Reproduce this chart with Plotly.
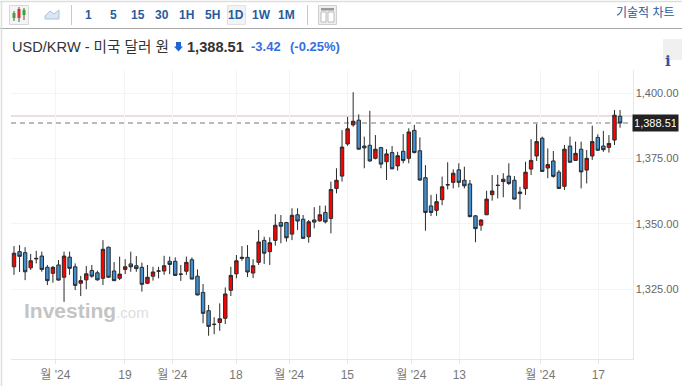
import plotly.graph_objects as go

W, H = 682, 386

high = [1341.4,1341.8,1341.0,1338.4,1339.6,1339.3,1334.2,1333.8,1336.1,1339.3,
        1339.3,1334.8,1330.0,1333.8,1334.2,1332.0,1343.7,1341.2,1335.3,1337.4,
        1336.4,1339.3,1337.6,1335.1,1334.2,1333.5,1333.5,1337.7,1337.4,1337.1,
        1334.2,1337.4,1337.1,1332.5,1326.9,1318.9,1314.2,1319.5,1325.6,1333.5,
        1338.0,1341.4,1341.8,1336.4,1347.6,1345.0,1344.8,1353.6,1353.3,1350.7,
        1355.9,1355.9,1353.3,1351.4,1356.3,1356.9,1356.9,1366.1,1371.2,1385.8,
        1390.9,1400.3,1391.8,1383.3,1393.2,1383.9,1379.4,1378.5,1379.7,1377.5,
        1384.3,1386.5,1387.8,1383.0,1372.4,1361.0,1361.3,1368.0,1373.5,1370.8,
        1373.1,1371.8,1366.7,1353.3,1351.7,1362.6,1368.6,1368.6,1369.3,1373.1,
        1368.2,1364.1,1373.7,1382.3,1388.1,1383.3,1378.8,1377.8,1370.5,1380.1,
        1383.3,1381.4,1381.4,1378.2,1387.5,1384.2,1385.5,1383.9,1393.5,1393.5]
low = [1330.4,1331.5,1328.4,1332.3,1334.8,1331.6,1326.5,1327.4,1328.2,1320.1,
       1330.4,1324.6,1322.3,1324.9,1329.3,1328.2,1326.5,1329.3,1328.0,1328.4,
       1330.7,1331.6,1331.6,1324.0,1326.9,1328.2,1329.1,1330.4,1330.7,1330.1,
       1328.1,1330.4,1328.7,1322.6,1311.9,1307.1,1307.7,1309.0,1311.6,1322.3,
       1329.1,1335.8,1329.6,1329.2,1334.2,1334.6,1334.2,1341.6,1342.5,1343.1,
       1343.7,1347.6,1344.2,1342.7,1348.2,1350.7,1350.1,1346.3,1361.6,1366.1,
       1379.8,1387.1,1378.4,1371.2,1373.7,1374.6,1371.2,1366.7,1370.8,1370.3,
       1373.1,1373.1,1376.9,1366.4,1347.3,1352.9,1353.0,1357.1,1363.1,1363.5,
       1363.9,1363.5,1352.4,1342.9,1347.3,1353.3,1358.8,1359.7,1360.1,1364.8,
       1359.3,1355.5,1361.0,1368.6,1374.0,1369.9,1367.4,1367.6,1363.3,1362.9,
       1373.4,1374.1,1363.5,1365.4,1374.4,1377.8,1377.5,1377.2,1380.1,1386.7]
open_ = [1333.5,1339.3,1338.9,1333.1,1336.5,1337.6,1333.3,1331.0,1334.2,1329.5,
         1337.2,1333.5,1327.2,1328.5,1332.1,1331.2,1329.1,1341.0,1331.9,1329.1,
         1332.5,1334.6,1333.9,1333.3,1327.2,1329.9,1331.8,1331.9,1335.6,1335.6,
         1330.6,1331.8,1336.2,1329.9,1323.7,1316.7,1311.4,1312.2,1313.8,1324.5,
         1330.8,1336.7,1337.1,1331.1,1335.2,1343.6,1339.3,1343.6,1350.4,1350.4,
         1346.0,1353.4,1351.7,1345.0,1351.4,1351.1,1354.3,1352.0,1363.5,1368.2,
         1380.5,1387.8,1389.6,1379.7,1380.0,1375.0,1379.1,1373.7,1377.2,1372.1,
         1377.7,1375.0,1385.7,1377.9,1367.6,1356.8,1355.1,1359.2,1364.8,1365.8,
         1370.6,1366.6,1365.2,1353.0,1349.4,1353.4,1361.1,1364.6,1366.1,1368.2,
         1366.6,1361.5,1363.4,1370.9,1375.9,1382.7,1371.3,1374.0,1369.7,1364.3,
         1379.7,1374.2,1378.5,1370.5,1375.9,1383.0,1379.7,1379.2,1382.0,1391.1]
close = [1338.7,1337.5,1331.6,1335.8,1336.7,1332.5,1328.2,1333.3,1328.4,1337.6,
         1332.9,1326.4,1328.2,1330.8,1329.9,1328.5,1340.2,1329.5,1328.2,1330.7,
         1333.5,1333.5,1332.8,1326.8,1329.5,1331.5,1331.9,1333.9,1334.4,1330.2,
         1330.7,1335.2,1328.8,1322.7,1315.7,1310.7,1311.5,1313.6,1323.1,1330.2,
         1335.8,1337.1,1331.5,1333.9,1343.0,1338.7,1342.7,1349.4,1349.0,1344.6,
         1353.2,1351.0,1344.4,1350.7,1350.6,1353.4,1350.7,1363.1,1366.6,1379.3,
         1386.3,1389.2,1378.5,1379.0,1374.0,1378.5,1372.8,1376.7,1371.0,1376.0,
         1374.2,1385.1,1377.2,1366.7,1354.3,1354.3,1358.4,1364.1,1364.9,1369.3,
         1365.8,1364.5,1352.7,1348.1,1351.4,1359.4,1362.5,1364.7,1367.0,1365.4,
         1359.4,1362.1,1369.7,1374.2,1381.4,1370.0,1372.6,1368.1,1363.5,1378.5,
         1373.5,1376.9,1369.8,1375.0,1381.4,1378.1,1378.3,1380.7,1391.5,1388.51]

x_tick_pos = [7.43, 19.96, 28.47, 39.93, 49.5, 59.95, 71.46, 80.1, 94.66, 105.1]
x_tick_text = ["월 '24", "19", "월 '24", "18", "월 '24", "15", "월 '24", "13", "월 '24", "17"]
y_ticks = [1325, 1350, 1375, 1400]
last_price = 1388.51
ref_price = 1391.2

toolbar_labels = ["1", "5", "15", "30", "1H", "5H", "1D", "1W", "1M"]
toolbar_x = [88, 113, 138, 162, 187, 212, 236, 261, 286]

FONT = "Liberation Sans, Noto Sans CJK KR, sans-serif"
NAVY = "#2a5a9c"


def px(v):
    return v / W


def py(v):
    return 1 - v / H


shapes = []
annots = []


def rect(x0, y0, x1, y1, fill=None, line=None, lw=1, layer="above"):
    shapes.append(dict(type="rect", xref="paper", yref="paper", x0=px(x0), x1=px(x1),
                       y0=py(y0), y1=py(y1), fillcolor=fill or "rgba(0,0,0,0)",
                       line=dict(color=line or "rgba(0,0,0,0)", width=lw if line else 0),
                       layer=layer))


def seg(x0, y0, x1, y1, color, lw=1):
    shapes.append(dict(type="line", xref="paper", yref="paper", x0=px(x0), x1=px(x1),
                       y0=py(y0), y1=py(y1), line=dict(color=color, width=lw)))


def text(x, y, s, size=12, color="#333", anchor="center", bg=None):
    annots.append(dict(xref="paper", yref="paper", x=px(x), y=py(y), text=s, showarrow=False,
                       xanchor=anchor, yanchor="middle", borderpad=0,
                       font=dict(size=size, color=color, family=FONT),
                       bgcolor=bg or "rgba(0,0,0,0)"))


# frame
seg(0, 1.5, 682, 1.5, "#dddddd", 1.5)
seg(0, 28.5, 682, 28.5, "#aaaaaa", 1)
seg(1.5, 2, 1.5, 386, "#dedede", 1.5)

# toolbar: candle icon
rect(9.5, 5.5, 28.5, 24.5, fill="#f4f4f4", line="#d8d8d8")
for cx, wt, wb, bt, bb, col in [(14, 11, 21, 13, 18, "#3aa53a"), (19, 7, 22, 9, 18, "#e03030"),
                                (24, 8, 20, 10, 15, "#3aa53a")]:
    seg(cx, wt, cx, wb, "#555555")
    rect(cx - 1.5, bt, cx + 1.5, bb, fill=col, line=None)
# toolbar: area icon
shapes.append(dict(type="path", xref="paper", yref="paper",
                   path=f"M {px(45)} {py(19)} L {px(45)} {py(16)} L {px(50)} {py(11)} L {px(54)} {py(14)} "
                        f"L {px(59)} {py(10)} L {px(59)} {py(19)} Z",
                   fillcolor="#dbe6f2", line=dict(color="#a9c3de", width=1)))
seg(71.5, 5, 71.5, 25, "#c8c8c8", 1)
seg(307.5, 5, 307.5, 25, "#c8c8c8", 1)
rect(227.5, 5.5, 245.5, 24.5, fill="#f3f3f3", line="#e2e2e2")
for lab, lx in zip(toolbar_labels, toolbar_x):
    text(lx, 14.5, f"<b>{lab}</b>", size=12, color=NAVY)
# toolbar: layout icon
rect(318.5, 5.5, 336.5, 24.5, fill="#eeeeee", line="#cfcfcf")
rect(321, 8, 334, 10.5, fill="#9a9a9a")
rect(321, 12, 326, 22, fill="#ffffff", line="#bdbdbd")
rect(328, 12, 334, 22, fill="#ffffff", line="#bdbdbd")
text(676, 13, "기술적 차트", size=12, color=NAVY, anchor="right")

# header
text(11, 47, "USD/KRW - 미국 달러 원", size=14.6, color="#333333", anchor="left")
shapes.append(dict(type="path", xref="paper", yref="paper",
                   path=f"M {px(176)} {py(42)} L {px(181)} {py(42)} L {px(181)} {py(46.5)} L {px(183)} {py(46.5)} "
                        f"L {px(178.5)} {py(51.5)} L {px(174)} {py(46.5)} L {px(176)} {py(46.5)} Z",
                   fillcolor="#1f66d0", line=dict(width=0)))
text(185.5, 47, f"<b>{last_price:,.2f}</b>", size=14.6, color="#333333", anchor="left")
text(250, 47, "<b>-3.42</b>", size=13, color="#3470e0", anchor="left")
text(288.5, 47, "<b>(-0.25%)</b>", size=13, color="#3470e0", anchor="left")
rect(663, 39, 682, 60, fill="#f0f0f0")
annots.append(dict(xref="paper", yref="paper", x=px(672.5), y=py(49.5), text="<b>i</b>", showarrow=False,
                   font=dict(size=15, color=NAVY, family="DejaVu Serif")))

# watermark
annots.append(dict(xref="paper", yref="paper", x=px(22), y=py(310), xanchor="left", yanchor="middle",
                   showarrow=False,
                   text="<b>Investing</b><span style='font-size:15px;color:#dedede'>.com</span>",
                   font=dict(size=21, color="#c4c4c4", family=FONT)))

# price lines
shapes.append(dict(type="line", xref="paper", yref="y", x0=px(11), x1=px(632), y0=ref_price, y1=ref_price,
                   line=dict(color="#d9bdbd", width=1), layer="below"))
shapes.append(dict(type="line", xref="paper", yref="y", x0=px(11), x1=px(632), y0=last_price, y1=last_price,
                   line=dict(color="#777777", width=1, dash="5px,4px"), layer="below"))

# last-price tag
annots.append(dict(xref="paper", yref="y", x=px(655.5), y=last_price, xanchor="center", text=f"{last_price:,.2f}",
                   showarrow=False, bgcolor="#222222", borderpad=2, width=41,
                   font=dict(size=11, color="#ffffff", family=FONT)))

fig = go.Figure(go.Candlestick(
    x=list(range(len(open_))), open=open_, high=high, low=low, close=close,
    increasing=dict(fillcolor="#ff0000", line=dict(color="#2a2a2a", width=1)),
    decreasing=dict(fillcolor="#3f8fd2", line=dict(color="#2a2a2a", width=1)),
    whiskerwidth=0, hoverinfo="skip", showlegend=False,
))
fig.update_layout(
    width=W, height=H, margin=dict(l=0, r=0, t=0, b=0),
    paper_bgcolor="white", plot_bgcolor="white", showlegend=False, boxgap=0.12,
    shapes=shapes, annotations=annots, font=dict(family=FONT),
    xaxis=dict(domain=[px(11), px(632.5)], range=[-0.54, 111.24], rangeslider=dict(visible=False),
               tickmode="array", tickvals=x_tick_pos, ticktext=x_tick_text,
               showgrid=True, gridcolor="#f4f4f4", gridwidth=1,
               showline=True, linecolor="#e6e6e6", ticks="outside", ticklen=4, tickcolor="#e6e6e6",
               tickfont=dict(size=12, color="#777777", family=FONT), zeroline=False),
    yaxis=dict(domain=[py(359.3), py(70)], range=[1298.1, 1408.8], side="right",
               tickmode="array", tickvals=y_ticks, tickformat=",.2f",
               showgrid=True, gridcolor="#f4f4f4", gridwidth=1,
               showline=True, linecolor="#e6e6e6", ticks="", ticklen=4,
               tickfont=dict(size=11, color="#666666", family=FONT), zeroline=False),
)
fig.write_html("out.html", config=dict(displayModeBar=False),
               post_script="document.body.style.margin='0';document.body.style.overflow='hidden';")
